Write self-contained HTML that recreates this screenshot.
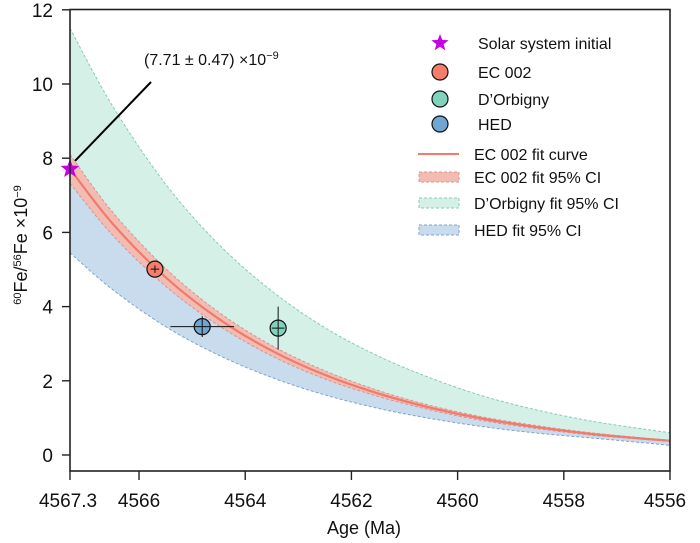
<!DOCTYPE html>
<html><head><meta charset="utf-8"><style>
body{margin:0;background:#fff}
svg{display:block;font-family:"Liberation Sans",sans-serif}
</style></head><body>
<svg id="chart" width="700" height="543" viewBox="0 0 700 543" xmlns="http://www.w3.org/2000/svg">
<g id="bands"></g><g id="marks"></g><g id="axes"></g><g id="legend"></g>
</svg>
<script>
const ages=[4567.3,4566.5,4565.5,4564.5,4563.5,4562.5,4561.5,4560.5,4559.5,4558.5,4557.5,4556.5,4556];
const ecFit=[7.71,6.24,4.79,3.67,2.81,2.16,1.66,1.27,0.97,0.75,0.57,0.44,0.385];
const ecUpper=[8.10,6.55,5.03,3.85,2.95,2.27,1.74,1.33,1.02,0.79,0.60,0.46,0.40];
const ecLower=[7.32,5.93,4.55,3.49,2.67,2.05,1.58,1.21,0.92,0.71,0.54,0.42,0.37];
const doUpper=[11.5,9.41,7.30,5.68,4.42,3.43,2.67,2.07,1.58,1.21,0.92,0.70,0.60];
const hedLower=[5.45,4.46,3.46,2.69,2.09,1.62,1.26,0.98,0.76,0.59,0.46,0.33,0.26];
const pointNames=["EC 002","HED","D'Orbigny"];
const pointAges=[4565.7,4564.81,4563.38];
const pointValues=[5.01,3.46,3.42];
const pointAgeErr=[0.08,0.6,0.12];
const pointValErr=[0.1,0.28,0.58];
const solarAge=4567.3, solarValue=7.71;
const xTicks=[4567.3,4566,4564,4562,4560,4558,4556];
const yTicks=[0,2,4,6,8,10,12];

const NS="http://www.w3.org/2000/svg";
const X=a=>70+(4567.3-a)*(600/11.3);
const Y=v=>455-v*37.1;
function mk(p,tag,at){const e=document.createElementNS(NS,tag);for(const k in at)e.setAttribute(k,at[k]);p.appendChild(e);return e;}
const bands=document.getElementById('bands'),marks=document.getElementById('marks'),axes=document.getElementById('axes'),legend=document.getElementById('legend');
function smooth(pts){
  let d="";
  for(let i=0;i<pts.length-1;i++){
    const p0=pts[Math.max(0,i-1)],p1=pts[i],p2=pts[i+1],p3=pts[Math.min(pts.length-1,i+2)];
    const c1=[p1[0]+(p2[0]-p0[0])/6,p1[1]+(p2[1]-p0[1])/6];
    const c2=[p2[0]-(p3[0]-p1[0])/6,p2[1]-(p3[1]-p1[1])/6];
    d+=" C"+c1[0].toFixed(1)+","+c1[1].toFixed(1)+" "+c2[0].toFixed(1)+","+c2[1].toFixed(1)+" "+p2[0].toFixed(1)+","+p2[1].toFixed(1);
  }
  return d;
}
function pts(arr){return arr.map((v,i)=>[X(ages[i]),Y(v)]);}
function path(arr){const p=pts(arr);return "M"+p[0][0].toFixed(1)+","+p[0][1].toFixed(1)+smooth(p);}
function band(up,lo,fill,stroke,name){
  const pu=pts(up),pl=pts(lo).reverse();
  const d="M"+pu[0][0]+","+pu[0][1]+smooth(pu)+" L"+pl[0][0]+","+pl[0][1]+smooth(pl)+"Z";
  const g=mk(bands,'g',{});
  
  
  mk(g,'path',{d:d,fill:fill,stroke:'none'});
  mk(g,'path',{d:path(up),fill:'none',stroke:stroke,'stroke-width':1,'stroke-dasharray':'3,2'});
  mk(g,'path',{d:path(lo),fill:'none',stroke:stroke,'stroke-width':1,'stroke-dasharray':'3,2'});
}
band(ecFit,hedLower,'#c9dcee','#7fa4c9','hed-ci-band');
band(doUpper,ecFit,'#d4f0e7','#86cbb8','dorbigny-ci-band');
band(ecUpper,ecLower,'#f3bcb3','#d9948b','ec002-ci-band');
const fit=mk(bands,'path',{d:path(ecFit),fill:'none',stroke:'#f07a6c','stroke-width':2.2});



const colors=['#f47d6b','#6fa6d2','#7fd3bd'];
pointAges.forEach((a,i)=>{
  const g=mk(marks,'g',{});
  
  
  const cx=X(a),cy=Y(pointValues[i]);
  mk(g,'circle',{cx:cx,cy:cy,r:8,fill:colors[i],stroke:'#111','stroke-width':1.2});
  mk(g,'line',{x1:X(a+pointAgeErr[i]),x2:X(a-pointAgeErr[i]),y1:cy,y2:cy,stroke:'#111','stroke-width':1});
  mk(g,'line',{x1:cx,x2:cx,y1:Y(pointValues[i]+pointValErr[i]),y2:Y(pointValues[i]-pointValErr[i]),stroke:'#111','stroke-width':1});
});
function star(p,cx,cy,R,r){let pts=[];for(let k=0;k<10;k++){const ang=-Math.PI/2+k*Math.PI/5,rr=k%2?r:R;pts.push((cx+rr*Math.cos(ang)).toFixed(1)+","+(cy+rr*Math.sin(ang)).toFixed(1));}return mk(p,'polygon',{points:pts.join(" "),fill:'#c700e6'});}
const ann=mk(marks,'line',{x1:X(solarAge)+5,y1:Y(solarValue)-8,x2:151,y2:82,stroke:'#000','stroke-width':2});


const st=star(marks,X(solarAge),Y(solarValue),10,4.2);


const at=mk(marks,'text',{x:144,y:65,'font-size':16,fill:'#111'});
at.innerHTML='(7.71 ± 0.47) ×10<tspan dy="-6" font-size="11">−9</tspan>';



const fr=mk(axes,'rect',{x:70,y:9.5,width:600,height:461.5,fill:'none',stroke:'#222','stroke-width':1.6});


yTicks.forEach(v=>{
  mk(axes,'line',{x1:62,x2:70,y1:Y(v),y2:Y(v),stroke:'#222','stroke-width':1.4});
  const t=mk(axes,'text',{x:53,y:Y(v)+7,'text-anchor':'end','font-size':19,fill:'#111'});
  t.textContent=v;
  
  
});
xTicks.forEach(a=>{
  mk(axes,'line',{x1:X(a),x2:X(a),y1:471,y2:480,stroke:'#222','stroke-width':1.4});
  const t=mk(axes,'text',{x:X(a)+(a===4567.3?-2:(a===4556?-5:0)),y:507,'text-anchor':'middle','font-size':19,fill:'#111'});
  t.textContent=a;
  
  
});
const xt=mk(axes,'text',{x:364,y:534,'text-anchor':'middle','font-size':18,fill:'#111'});
xt.textContent='Age (Ma)';


const yt=mk(axes,'text',{x:0,y:0,'text-anchor':'middle','font-size':18,fill:'#111',transform:'translate(27,245) rotate(-90)'});
yt.innerHTML='<tspan dy="-6" font-size="11">60</tspan><tspan dy="6">Fe/</tspan><tspan dy="-6" font-size="11">56</tspan><tspan dy="6">Fe ×10</tspan><tspan dy="-6" font-size="11">−9</tspan>';



const legLabels=['Solar system initial','EC 002',"D’Orbigny",'HED','EC 002 fit curve','EC 002 fit 95% CI',"D’Orbigny fit 95% CI",'HED fit 95% CI'];
const legY=[43,72,99,124,154,177,203,230];
legLabels.forEach((lab,i)=>{
  const g=mk(legend,'g',{});
  
  
  const y=legY[i];
  if(i===0)star(g,440,y,9,3.8);
  else if(i<4)mk(g,'circle',{cx:440,cy:y,r:8,fill:['#f47d6b','#7fd3bd','#6fa6d2'][i-1],stroke:'#111','stroke-width':1.2});
  else if(i===4)mk(g,'line',{x1:418,x2:459,y1:y,y2:y,stroke:'#f07a6c','stroke-width':2});
  else mk(g,'rect',{x:419,y:y-5,width:40,height:10,fill:['#f3bcb3','#d4f0e7','#c9dcee'][i-5],stroke:['#d9948b','#86cbb8','#7fa4c9'][i-5],'stroke-dasharray':'3,2','stroke-width':1});
  const t=mk(g,'text',{x:i<4?478:474,y:y+6,'font-size':16,fill:'#111'});
  t.textContent=lab;
});
</script>
</body></html>
